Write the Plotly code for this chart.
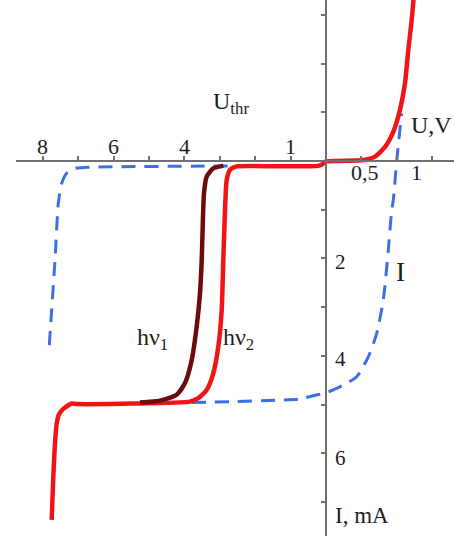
import plotly.graph_objects as go

# Voltage axis is measured in tick divisions: left of zero 1 division = 1 V (reverse bias),
# right of zero 1 division = 0.5 V (forward bias). Current axis in mA, positive = downwards.

# Photodiode curve hv2 (bright red)
u_hv2 = [-7.749, -7.703, -7.655, -7.607, -7.542, -7.42, -7.288, -7.184, -7.042, -5.537,
         -3.842, -3.607, -3.370, -3.184, -3.042, -2.946, -2.901, -2.853, -2.805, -2.712,
         -2.523, -1.299, -0.226, -0.113, 0.0, 0.395, 1.054, 1.384, 1.667, 1.901,
         2.090, 2.232, 2.325, 2.421, 2.472]
i_hv2 = [7.37, 6.48, 5.79, 5.39, 5.20, 5.09, 5.02, 4.98, 4.99, 4.98,
         4.94, 4.87, 4.70, 4.36, 3.81, 3.06, 2.03, 1.01, 0.39, 0.18,
         0.11, 0.11, 0.10, 0.07, 0.01, 0.00, -0.02, -0.09, -0.29, -0.60,
         -1.05, -1.60, -2.28, -2.90, -3.31]

# Photodiode curve hv1 (dark red), the part that departs from hv2
u_hv1 = [-5.254, -4.689, -4.218, -3.983, -3.794, -3.653, -3.559, -3.511, -3.483, -3.446,
         -3.370, -3.184, -2.901]
i_hv1 = [4.96, 4.92, 4.80, 4.56, 4.09, 3.40, 2.71, 2.03, 1.35, 0.66,
         0.32, 0.15, 0.10]

# Load characteristic I (blue dashed), upper branch
u_load_a = [-7.816, -7.749, -7.655, -7.562, -7.466, -7.325, -7.09, -6.760, -2.627, -0.17]
i_load_a = [3.78, 3.06, 2.03, 0.87, 0.46, 0.25, 0.15, 0.13, 0.10, 0.10]

# Load characteristic I (blue dashed), lower branch
u_load_b = [-3.794, -0.734, -0.641, 0.065, 0.489, 0.867, 1.195, 1.432, 1.619, 1.760,
            1.856, 1.901, 2.0, 2.138]
i_load_b = [4.96, 4.89, 4.87, 4.74, 4.60, 4.43, 4.02, 3.54, 2.85, 1.83,
            1.01, 0.80, -0.02, -0.98]

# Axis tick positions and labels
u_ticks = [-8, -7, -6, -5, -4, -3, -2, -1, 1, 2, 3]
u_labels_top = [(-8, "8"), (-6, "6"), (-4, "4"), (-1, "1")]
u_labels_bottom = [(1.10, "0,5"), (2.57, "1")]
i_ticks = [-3, -2, -1, 1, 2, 3, 4, 5, 6, 7]
i_labels = [(2.07, "2"), (4.07, "4"), (6.10, "6")]

W, H = 454, 536
x_range = [-8.757, 3.616]
x_domain = [16 / W, 1.0]
y_range = [7.70, -3.306]

RED = "#f21414"
DARK = "#6e0a0e"
BLUE = "#3c6fe4"
AXIS = "#707070"
TEXT = "#1e1e1e"
FONT = "Liberation Serif"

fig = go.Figure()

for ux, iy in [(u_load_a, i_load_a), (u_load_b, i_load_b)]:
    fig.add_trace(go.Scatter(x=ux, y=iy, mode="lines",
                             line=dict(color=BLUE, width=3, dash="14px,9px",
                                       shape="spline", smoothing=0.6),
                             hoverinfo="skip", showlegend=False))

fig.add_trace(go.Scatter(x=u_hv2, y=i_hv2, mode="lines",
                         line=dict(color=RED, width=4.5, shape="spline", smoothing=0.6),
                         hoverinfo="skip", showlegend=False))
fig.add_trace(go.Scatter(x=u_hv1, y=i_hv1, mode="lines",
                         line=dict(color=DARK, width=4.5, shape="spline", smoothing=0.6),
                         hoverinfo="skip", showlegend=False))

# Axes cross at the origin
x_axis_pos = (y_range[0] - 0) / (y_range[0] - y_range[1])
y_axis_pos = x_domain[0] + (0 - x_range[0]) / (x_range[1] - x_range[0]) * (x_domain[1] - x_domain[0])

annotations = []
for u, t in u_labels_top:
    annotations.append(dict(x=u, y=-0.30, text=t, xanchor="center", yanchor="middle",
                            font=dict(size=22)))
for u, t in u_labels_bottom:
    annotations.append(dict(x=u, y=0.23, text=t, xanchor="center", yanchor="middle",
                            font=dict(size=22)))
for i, t in i_labels:
    annotations.append(dict(x=0.19, y=i, text=t, xanchor="left", yanchor="middle",
                            font=dict(size=21)))
annotations += [
    dict(x=0.19, y=7.28, text="I, mA", xanchor="left", yanchor="middle",
         font=dict(size=23)),
    dict(x=2.34, y=-0.74, text="U,V", xanchor="left", yanchor="middle",
         font=dict(size=24)),
    dict(x=2.10, y=2.28, text="I", xanchor="center", yanchor="middle",
         font=dict(size=27)),
    dict(x=-3.25, y=-1.19, text="U<sub>thr</sub>", xanchor="left", yanchor="middle",
         font=dict(size=24)),
    dict(x=-4.90, y=3.66, text="hν<sub>1</sub>", xanchor="center", yanchor="middle",
         font=dict(size=24)),
    dict(x=-2.47, y=3.66, text="hν<sub>2</sub>", xanchor="center", yanchor="middle",
         font=dict(size=24)),
]
for a in annotations:
    a["font"] = dict(family=FONT, color=TEXT, **a["font"])
    a.update(showarrow=False, xref="x", yref="y")

fig.update_layout(
    width=W, height=H,
    margin=dict(l=0, r=0, t=0, b=0),
    paper_bgcolor="white", plot_bgcolor="white",
    showlegend=False,
    annotations=annotations,
    xaxis=dict(range=x_range, domain=x_domain, anchor="free", position=x_axis_pos,
               side="top", showline=True, linecolor=AXIS, linewidth=2,
               ticks="outside", ticklen=4, tickwidth=1.5, tickcolor=AXIS,
               tickvals=u_ticks, showticklabels=False,
               showgrid=False, zeroline=False, fixedrange=True),
    yaxis=dict(range=y_range, domain=[0, 1], anchor="free", position=y_axis_pos,
               side="right", showline=True, linecolor=AXIS, linewidth=2,
               ticks="inside", ticklen=4, tickwidth=1.5, tickcolor=AXIS,
               tickvals=i_ticks, showticklabels=False,
               showgrid=False, zeroline=False, fixedrange=True),
)

fig.write_html("out.html")
